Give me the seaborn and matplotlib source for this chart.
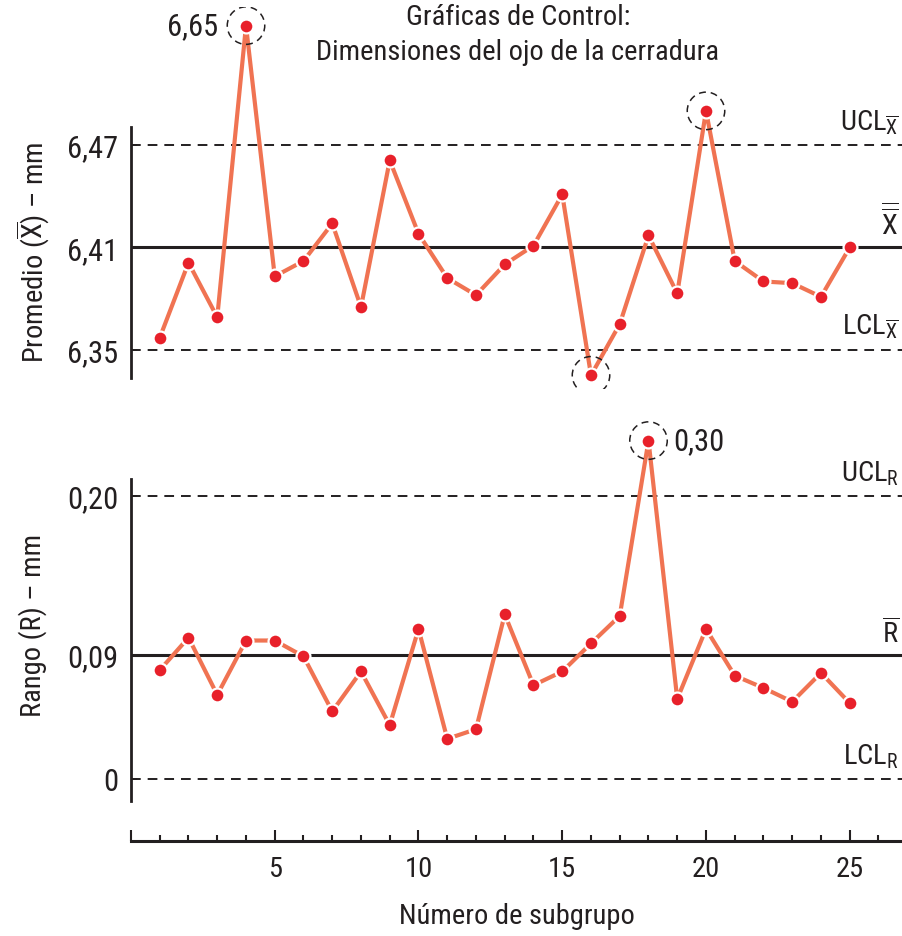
import numpy as np
import pandas as pd
import matplotlib
matplotlib.use("Agg")
import matplotlib.pyplot as plt
from matplotlib import font_manager
import seaborn as sns

# ---------------- data ----------------
subgroups = list(range(1, 26))
xbar_values = [6.357, 6.401, 6.369, 6.65, 6.393, 6.402, 6.424, 6.375, 6.461, 6.418,
               6.392, 6.382, 6.400, 6.411, 6.441, 6.335, 6.365, 6.417, 6.383, 6.490,
               6.402, 6.390, 6.389, 6.381, 6.410]
range_values = [0.079, 0.102, 0.061, 0.100, 0.100, 0.089, 0.049, 0.078, 0.039, 0.108,
                0.029, 0.036, 0.118, 0.068, 0.078, 0.098, 0.117, 0.30, 0.058, 0.108,
                0.075, 0.066, 0.056, 0.077, 0.055]
xbar_limits = {"ucl": 6.47, "center": 6.41, "lcl": 6.35}
range_limits = {"ucl": 0.20, "center": 0.09, "lcl": 0.0}
xbar_ticks = [6.35, 6.41, 6.47]
xbar_ticklabels = ["6,35", "6,41", "6,47"]
range_ticks = [0.0, 0.09, 0.20]
range_ticklabels = ["0", "0,09", "0,20"]
xbar_outliers = [4, 16, 20]
range_outliers = [18]
x_major = [5, 10, 15, 20, 25]

title_text = "Gráficas de Control:\nDimensiones del ojo de la cerradura"
ylabel_top = "Promedio ($\\overline{\\mathrm{X}}$) – mm"
ylabel_bottom = "Rango (R) – mm"
xlabel_text = "Número de subgrupo"

# --------------- style ----------------
sns.set_style("white")
names = {f.name for f in font_manager.fontManager.ttflist}
FONT = "DejaVu Sans"
for cand in ["Liberation Sans Narrow", "Roboto Condensed", "Roboto", "Liberation Sans"]:
    if cand in names:
        FONT = cand
        break
plt.rcParams["font.family"] = [FONT, "DejaVu Sans"]
plt.rcParams["mathtext.fontset"] = "custom"
plt.rcParams["mathtext.rm"] = FONT
plt.rcParams["mathtext.it"] = FONT
plt.rcParams["mathtext.bf"] = FONT
plt.rcParams["lines.scale_dashes"] = False

LINE_C = "#F07352"
MARK_C = "#E8202A"
INK = "#231F20"
FS = 20.5
TFS = 22

W, H, DPI = 903, 937, 100
fig = plt.figure(figsize=(W / DPI, H / DPI), dpi=DPI)

def fx(px):
    return px / W

def fy(px):
    return 1 - px / H

X0_PX, X1_PX = 131, 903
UNIT_PX = 28.75
XLIM = (0, (X1_PX - X0_PX) / UNIT_PX)

# piecewise scales (broken upper part)
TOP_REAL = [5.0, 6.50, 6.65, 8.0]
TOP_DISP = [5.0, 6.50, 6.54, 6.54 + 1.35 * 0.2667]
BOT_REAL = [-1.0, 0.0, 0.09, 0.20, 0.30, 2.0]
BOT_DISP = [-1.0, 0.0, 0.09, 0.2059, 0.2460, 0.2460 + 1.7 * 0.401]

def make_scale(real, disp):
    fwd = lambda v: np.interp(v, real, disp)
    inv = lambda d: np.interp(d, disp, real)
    return fwd, inv

top_fwd, top_inv = make_scale(TOP_REAL, TOP_DISP)
bot_fwd, bot_inv = make_scale(BOT_REAL, BOT_DISP)

def px_to_disp(px, v1, p1, v2, p2):
    return v1 + (px - p1) * (v2 - v1) / (p2 - p1)

# ------------- axes ------------------
ax1 = fig.add_axes([fx(X0_PX), fy(390), fx(X1_PX - X0_PX), (390 - 8) / H])
ax2 = fig.add_axes([fx(X0_PX), fy(810), fx(X1_PX - X0_PX), (810 - 400) / H])
ax3 = fig.add_axes([fx(X0_PX), fy(842), fx(X1_PX - X0_PX), 4 / H])

ax1.set_yscale("function", functions=(top_fwd, top_inv))
ax2.set_yscale("function", functions=(bot_fwd, bot_inv))

tref = (6.35, 350.7, 6.47, 146.0)
bref = (0.0, 779.7, 0.09, 656.0)
ax1.set_ylim(float(top_inv(px_to_disp(390, *tref))), float(top_inv(px_to_disp(8, *tref))))
ax2.set_ylim(float(bot_inv(px_to_disp(810, *bref))), float(bot_inv(px_to_disp(400, *bref))))
spine1 = (float(top_inv(px_to_disp(379, *tref))), float(top_inv(px_to_disp(128, *tref))))
spine2 = (float(bot_inv(px_to_disp(802, *bref))), float(bot_inv(px_to_disp(480, *bref))))

df_top = pd.DataFrame({"subgrupo": subgroups, "valor": xbar_values})
df_bot = pd.DataFrame({"subgrupo": subgroups, "valor": range_values})

panels = [
    (ax1, df_top, xbar_limits, xbar_ticks, xbar_ticklabels, spine1, xbar_outliers,
     ["UCL$_{\\overline{\\mathrm{X}}}$", "$\\overline{\\overline{\\mathrm{X}}}$", "LCL$_{\\overline{\\mathrm{X}}}$"]),
    (ax2, df_bot, range_limits, range_ticks, range_ticklabels, spine2, range_outliers,
     ["UCL$_{\\mathrm{R}}$", "$\\overline{\\mathrm{R}}$", "LCL$_{\\mathrm{R}}$"]),
]

for ax, df, lim, ticks, tlabels, sb, outl, rlabels in panels:
    ax.set_facecolor("none")
    ax.set_xlim(*XLIM)
    for s in ["top", "right", "bottom"]:
        ax.spines[s].set_visible(False)
    ax.spines["left"].set_bounds(*sb)
    ax.spines["left"].set_linewidth(2.0)
    ax.spines["left"].set_color(INK)
    ax.set_xticks([])
    ax.set_yticks(ticks)
    ax.set_yticklabels(tlabels)
    ax.yaxis.set_minor_locator(matplotlib.ticker.NullLocator())
    ax.tick_params(axis="y", direction="in", length=4, width=1.2, color=INK,
                   labelsize=TFS, labelcolor=INK, pad=9, left=True)
    # control lines
    ax.axhline(lim["ucl"], color=INK, lw=1.4, dashes=(7, 5), zorder=1)
    ax.axhline(lim["lcl"], color=INK, lw=1.4, dashes=(7, 5), zorder=1)
    ax.axhline(lim["center"], color=INK, lw=2.2, zorder=1)
    # data line
    sns.lineplot(data=df, x="subgrupo", y="valor", ax=ax, color=LINE_C, linewidth=3.0,
                 marker="o", markersize=10, markerfacecolor=MARK_C,
                 markeredgecolor="white", markeredgewidth=1.6, zorder=3, legend=False)
    ax.set_xlabel("")
    ax.set_ylabel("")
    # dashed circles around out-of-control points
    sel = df[df["subgrupo"].isin(outl)]
    ax.scatter(sel["subgrupo"], sel["valor"], s=27 ** 2, facecolors="none",
               edgecolors=INK, linewidths=1.1, linestyles=(0, (5, 3.5)), zorder=4)
    # right side labels
    for val, lab, off in zip([lim["ucl"], lim["center"], lim["lcl"]], rlabels, [11, 9, 11]):
        ax.annotate(lab, xy=(1, val), xycoords=("axes fraction", "data"),
                    xytext=(-3, off), textcoords="offset points", ha="right",
                    va="baseline", fontsize=FS, color=INK)

# value annotations for extreme points
ax1.annotate("6,65", xy=(4, xbar_values[3]), xytext=(-20, 0), textcoords="offset points",
             ha="right", va="center", fontsize=TFS, color=INK)
ax2.annotate("0,30", xy=(18, range_values[17]), xytext=(18, 0), textcoords="offset points",
             ha="left", va="center", fontsize=TFS, color=INK)

# bottom x axis
ax3.set_facecolor("none")
ax3.set_xlim(*XLIM)
for s in ["top", "right", "left"]:
    ax3.spines[s].set_visible(False)
ax3.spines["bottom"].set_linewidth(2.2)
ax3.spines["bottom"].set_color(INK)
ax3.set_yticks([])
ax3.set_xticks([0] + x_major)
ax3.set_xticklabels([""] + [str(v) for v in x_major])
ax3.set_xticks(list(range(1, 27)), minor=True)
ax3.tick_params(axis="x", which="major", direction="in", length=8, width=1.5,
                color=INK, labelsize=FS, labelcolor=INK, pad=10, bottom=True)
ax3.tick_params(axis="x", which="minor", direction="in", length=4, width=1.5,
                color=INK, bottom=True)

# texts
fig.text(fx(518), fy(35), title_text, ha="center", va="center", fontsize=FS,
         color=INK, linespacing=1.4)
fig.text(fx(33), fy(252), ylabel_top, rotation=90, ha="center", va="center",
         fontsize=FS, color=INK)
fig.text(fx(33), fy(625), ylabel_bottom, rotation=90, ha="center", va="center",
         fontsize=FS, color=INK)
fig.text(fx(517), fy(917), xlabel_text, ha="center", va="center", fontsize=FS, color=INK)

fig.savefig("out.png", dpi=DPI)
